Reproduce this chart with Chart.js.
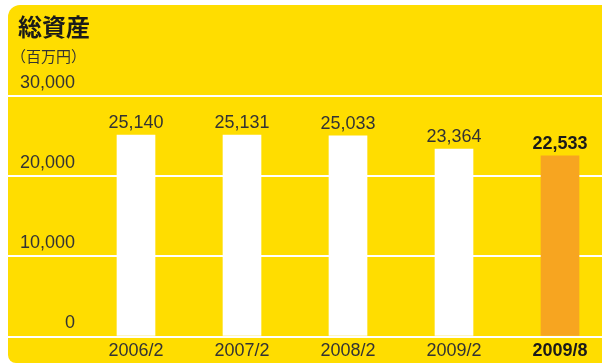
<!DOCTYPE html>
<html>
<head>
<meta charset="utf-8">
<script src="https://cdn.jsdelivr.net/npm/chart.js@4/dist/chart.umd.min.js"></script>
<style>
  html, body { margin: 0; padding: 0; background: #ffffff; overflow: hidden; }
  canvas { display: block; }
</style>
</head>
<body>
<canvas id="c" width="603" height="363"></canvas>
<script>
// ---- data ----
const categories = ['2006/2', '2007/2', '2008/2', '2009/2', '2009/8'];
const values = [25140, 25131, 25033, 23364, 22533];
const yTicks = [0, 10000, 20000, 30000];
const titleText = '総資産';
const unitText = '（百万円）';

// ---- styles ----
const YELLOW = '#FFDD00';
const ORANGE = '#F7A520';
const TEXT = '#333333';
const TEXT_STRONG = '#1a1a1a';
const NUM_FONT = '"Liberation Sans", Arial, Helvetica, sans-serif';
const CJK_FONT = '"Noto Sans CJK JP", "Noto Sans", sans-serif';
const lastIdx = categories.length - 1;
const barColors = values.map((v, i) => i === lastIdx ? ORANGE : '#ffffff');
const fmt = v => Number(v).toLocaleString('en-US');

const backgroundPlugin = {
  id: 'bg',
  beforeDraw(chart) {
    const ctx = chart.ctx;
    ctx.save();
    ctx.fillStyle = '#ffffff';
    ctx.fillRect(0, 0, chart.width, chart.height);
    ctx.fillStyle = YELLOW;
    ctx.beginPath();
    ctx.roundRect(8, 5, 594, 358, [12, 0, 0, 8]);
    ctx.fill();
    // titles
    ctx.fillStyle = TEXT_STRONG;
    ctx.textBaseline = 'middle';
    ctx.textAlign = 'left';
    ctx.font = 'bold 24px ' + CJK_FONT;
    ctx.fillText(titleText, 18, 27);
    ctx.fillStyle = TEXT;
    ctx.font = '15px ' + CJK_FONT;
    ctx.fillText(unitText, 11, 56);
    ctx.restore();
  }
};

const valueLabelPlugin = {
  id: 'valueLabels',
  afterDatasetsDraw(chart) {
    const ctx = chart.ctx;
    const meta = chart.getDatasetMeta(0);
    ctx.save();
    ctx.textAlign = 'center';
    ctx.textBaseline = 'alphabetic';
    meta.data.forEach((el, i) => {
      const strong = i === lastIdx;
      ctx.font = (strong ? 'bold ' : '') + '18px ' + NUM_FONT;
      ctx.fillStyle = strong ? TEXT_STRONG : TEXT;
      ctx.fillText(fmt(values[i]), el.x, el.y - 7);
    });
    ctx.restore();
  }
};

new Chart(document.getElementById('c'), {
  type: 'bar',
  data: {
    datasets: [{
      data: values.map((v, i) => ({ x: i, y: v })),
      backgroundColor: barColors,
      borderWidth: 0,
      barThickness: 38
    }]
  },
  options: {
    responsive: false,
    animation: false,
    devicePixelRatio: 1,
    layout: { padding: { left: 8, right: 1, top: 96, bottom: 1 } },
    plugins: { legend: { display: false }, tooltip: { enabled: false } },
    scales: {
      x: {
        type: 'linear',
        offset: false,
        bounds: 'data',
        min: -1.2075,
        max: 4.3962,
        afterBuildTicks: s => { s.ticks = categories.map((_, i) => ({ value: i })); },
        afterFit: s => { s.height = 25.5; s.paddingLeft = 0; s.paddingRight = 0; },
        grid: { display: false, drawTicks: false, offset: false },
        border: { display: false },
        ticks: {
          autoSkip: false,
          maxRotation: 0,
          padding: 4,
          callback: v => categories[v],
          color: c => c.index === lastIdx ? TEXT_STRONG : TEXT,
          font: c => ({ family: NUM_FONT, size: 18, weight: c.index === lastIdx ? 'bold' : 'normal' })
        }
      },
      y: {
        min: 0,
        max: 30000,
        afterBuildTicks: s => { s.ticks = yTicks.map(v => ({ value: v })); },
        afterFit: s => { s.width = 0; s.paddingTop = 0; s.paddingBottom = 0; },
        grid: { color: '#ffffff', lineWidth: 2, drawTicks: false },
        border: { display: false },
        ticks: {
          mirror: true,
          crossAlign: 'far',
          padding: 12,
          labelOffset: -13,
          color: TEXT,
          font: { family: NUM_FONT, size: 18 },
          callback: v => fmt(v)
        }
      }
    }
  },
  plugins: [backgroundPlugin, valueLabelPlugin]
});
</script>
</body>
</html>
